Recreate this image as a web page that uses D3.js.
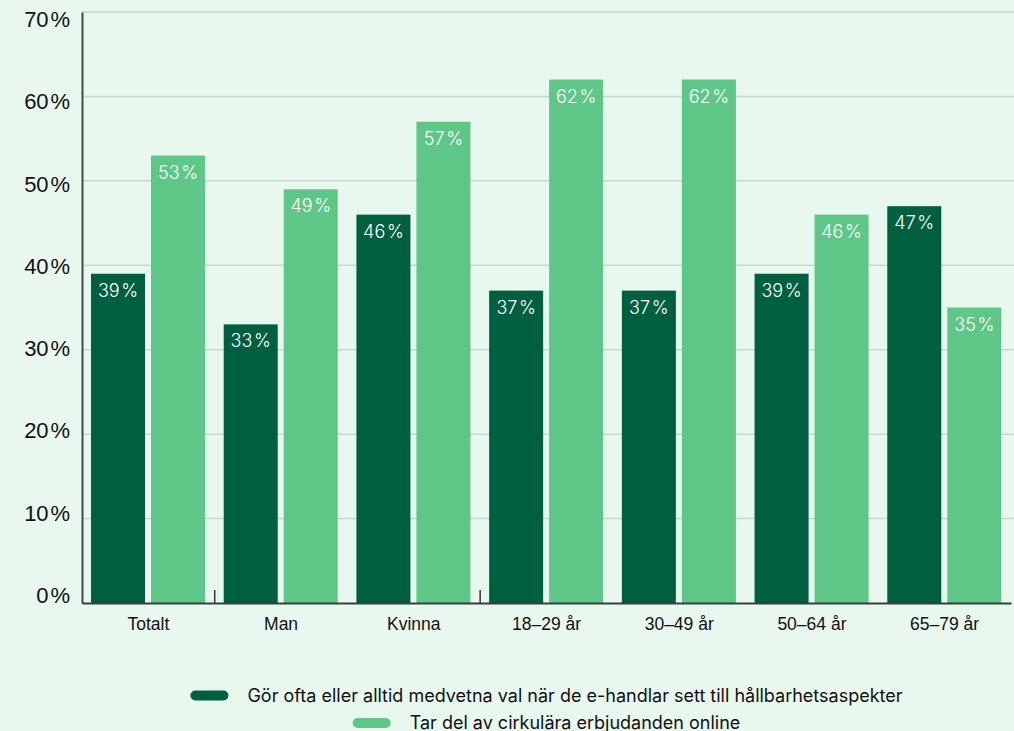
<!DOCTYPE html>
<html lang="sv">
<head>
<meta charset="utf-8">
<script src="https://cdn.jsdelivr.net/npm/d3@7"></script>
<style>
  html, body { margin: 0; padding: 0; background: #e8f8ef; }
  svg { display: block; font-family: "Inter", "Noto Sans", sans-serif; font-weight: 400; }
</style>
</head>
<body>
<svg id="chart" width="1014" height="731"></svg>
<script>
// Kategorier och andel per serie (procent)
const categories = ["Totalt", "Man", "Kvinna", "18–29 år", "30–49 år", "50–64 år", "65–79 år"];
const seriesNames = [
  "Gör ofta eller alltid medvetna val när de e-handlar sett till hållbarhetsaspekter",
  "Tar del av cirkulära erbjudanden online"
];
const medvetnaVal = [39, 33, 46, 37, 37, 39, 47];
const cirkulara = [53, 49, 57, 62, 62, 46, 35];
const yTicks = [0, 10, 20, 30, 40, 50, 60, 70];
// Gränser mellan grupperna Totalt | Kön | Ålder
const sectionBreaks = ["Man", "18–29 år"];

const colors = ["#005f3f", "#5ec787"];
const series = [medvetnaVal, cirkulara];

const W = 1014, H = 731;
const margin = { top: 12, right: 3, bottom: 128, left: 82 };
const innerW = W - margin.left - margin.right;
const innerH = H - margin.top - margin.bottom;

const svg = d3.select("#chart");
const g = svg.append("g").attr("transform", `translate(${margin.left},${margin.top})`);

const x0 = d3.scaleBand().domain(categories).range([0, innerW]).paddingInner(0).paddingOuter(0);
const x1 = d3.scaleBand().domain([0, 1]).range([9, x0.bandwidth() - 9.7]).paddingInner(0.1);
const y = d3.scaleLinear().domain([0, 70]).range([innerH, 0]);
// Etiketterna på y-axeln ligger på en något tätare skala än stödlinjerna
const yLabel = d3.scaleLinear().domain([0, 70]).range([innerH, 15]);

const pct = v => `${v}\u200A%`;

// Stödlinjer
g.append("g").selectAll("line").data(yTicks.filter(t => t > 0)).join("line")
  .attr("x1", 0).attr("x2", innerW + margin.right)
  .attr("y1", d => y(d)).attr("y2", d => y(d))
  .attr("stroke", "#c6d8cd").attr("stroke-width", 1.5);

// Staplar
const groups = g.append("g").selectAll("g").data(categories).join("g")
  .attr("transform", d => `translate(${x0(d)},0)`);

groups.selectAll("rect").data((d, i) => series.map((s, k) => ({ k, v: s[i] }))).join("rect")
  .attr("x", d => x1(d.k)).attr("width", x1.bandwidth())
  .attr("y", d => y(d.v)).attr("height", d => innerH - y(d.v))
  .attr("fill", d => colors[d.k]);

groups.selectAll("text").data((d, i) => series.map((s, k) => ({ k, v: s[i] }))).join("text")
  .attr("x", d => x1(d.k) + x1.bandwidth() / 2)
  .attr("y", d => y(d.v) + 23)
  .attr("text-anchor", "middle")
  .attr("fill", "#ffffff")
  .attr("font-size", 18)
  .attr("font-weight", 300)
  .text(d => pct(d.v));

// Y-axel
const yAxis = g.append("g").call(d3.axisLeft(y).tickValues(yTicks).tickSize(0).tickPadding(12).tickFormat(pct));
yAxis.select(".domain").attr("stroke", "#444a46").attr("stroke-width", 2);
yAxis.selectAll(".tick").attr("transform", d => `translate(0,${yLabel(d)})`);
yAxis.selectAll("text").attr("font-size", 22).attr("fill", "#111").attr("dy", 0).attr("font-family", null);

// X-axel
const xAxis = g.append("g").attr("transform", `translate(0,${innerH})`)
  .call(d3.axisBottom(x0).tickSize(0).tickPadding(15));
xAxis.select(".domain").attr("stroke", "#3a3f3c").attr("stroke-width", 2);
xAxis.selectAll("text").attr("font-size", 17.5).attr("fill", "#111").attr("font-family", null);

// Avdelare mellan grupper
g.append("g").selectAll("line").data(sectionBreaks).join("line")
  .attr("x1", d => x0(d)).attr("x2", d => x0(d))
  .attr("y1", innerH - 13).attr("y2", innerH)
  .attr("stroke", "#333").attr("stroke-width", 1.5);

// Teckenförklaring
const legend = svg.append("g");
const legendRows = [
  { y: 695.5, k: 0 },
  { y: 723, k: 1 }
];
const centerX = margin.left + innerW / 2;
legendRows.forEach(r => {
  const item = legend.append("g");
  item.append("rect").attr("x", 0).attr("y", -5).attr("width", 38).attr("height", 10).attr("rx", 5)
    .attr("fill", colors[r.k]);
  const t = item.append("text").attr("x", 57).attr("y", 0).attr("dy", "0.35em")
    .attr("font-size", 18).attr("fill", "#111").text(seriesNames[r.k]);
  const w = 57 + t.node().getComputedTextLength();
  item.attr("transform", `translate(${centerX - w / 2},${r.y})`);
});
</script>
</body>
</html>
